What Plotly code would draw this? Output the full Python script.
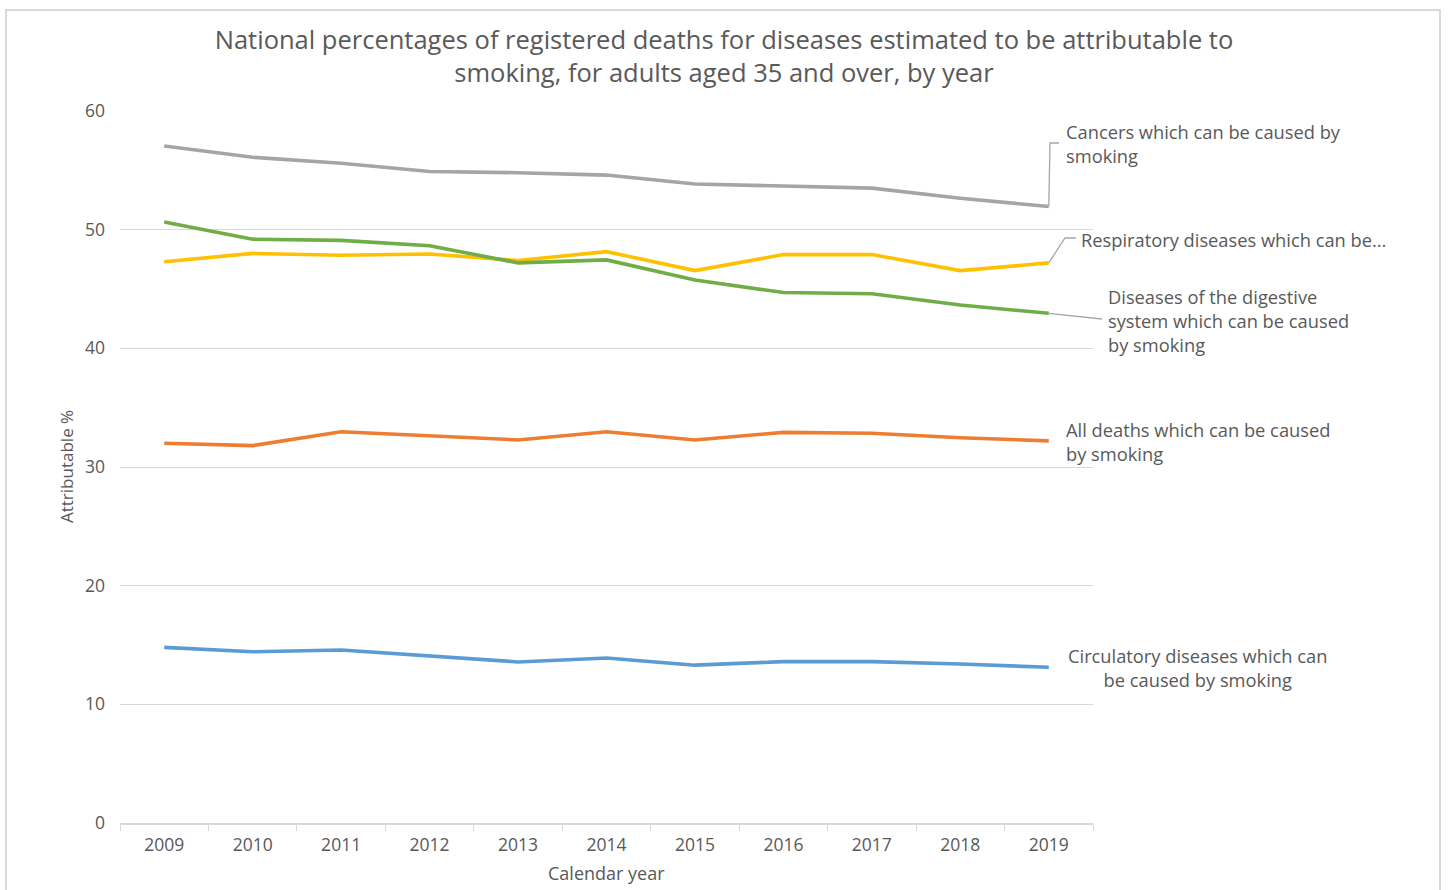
import plotly.graph_objects as go

years = ["2009", "2010", "2011", "2012", "2013", "2014", "2015", "2016", "2017", "2018", "2019"]
cancers = [57.05, 56.1, 55.6, 54.9, 54.8, 54.6, 53.85, 53.7, 53.5, 52.65, 51.95]
respiratory = [47.3, 48.0, 47.85, 47.95, 47.4, 48.15, 46.55, 47.9, 47.9, 46.55, 47.2]
digestive = [50.65, 49.2, 49.1, 48.65, 47.2, 47.45, 45.75, 44.7, 44.6, 43.65, 42.95]
all_deaths = [32.0, 31.8, 32.97, 32.6, 32.28, 32.97, 32.28, 32.92, 32.84, 32.47, 32.2]
circulatory = [14.8, 14.43, 14.58, 14.07, 13.57, 13.9, 13.3, 13.6, 13.6, 13.4, 13.12]

series_names = [
    "Cancers which can be caused by smoking",
    "Respiratory diseases which can be caused by smoking",
    "Diseases of the digestive system which can be caused by smoking",
    "All deaths which can be caused by smoking",
    "Circulatory diseases which can be caused by smoking",
]
series_values = [cancers, respiratory, digestive, all_deaths, circulatory]
colors = ["#a5a5a5", "#ffc000", "#70ad47", "#ed7d31", "#5b9bd5"]

W, H = 1448, 890
L, R, T, B = 120, 1093, 111, 823
YMAX = 60
FONT = "Open Sans"
TXT = "#595959"


def px(x):
    return (x - L) / (R - L)


def py(y):
    return (B - y) / (B - T)


def end_x():
    n = len(years)
    return (n - 1 + 0.5) / n


def val_y(v):
    return v / YMAX


fig = go.Figure()
for name, vals, col in zip(series_names, series_values, colors):
    fig.add_trace(go.Scatter(x=years, y=vals, name=name, mode="lines",
                             line=dict(color=col, width=3.6), showlegend=False,
                             hoverinfo="x+y+name"))

shapes = []
# chart border
shapes.append(dict(type="rect", xref="paper", yref="paper",
                   x0=px(6), x1=px(1440), y0=py(900), y1=py(10),
                   line=dict(color="#d9d9d9", width=2), fillcolor="rgba(0,0,0,0)", layer="below"))

lead = dict(color="#a6a6a6", width=1.3)
ex = end_x()
# cancers leader
shapes.append(dict(type="path", xref="paper", yref="paper",
                   path=f"M{ex},{val_y(cancers[-1])} L{px(1050)},{py(143)} L{px(1059)},{py(143)}",
                   line=lead))
# respiratory leader
shapes.append(dict(type="path", xref="paper", yref="paper",
                   path=f"M{ex},{val_y(respiratory[-1])} L{px(1065)},{py(238)} L{px(1076)},{py(238)}",
                   line=lead))
# digestive leader
shapes.append(dict(type="path", xref="paper", yref="paper",
                   path=f"M{ex},{val_y(digestive[-1])} L{px(1102)},{py(319)}",
                   line=lead))

annots = []
lab_font = dict(family=FONT, size=18.3, color=TXT)
annots.append(dict(text="Cancers which can be caused by<br>smoking", x=px(1064), y=py(143),
                   xanchor="left", yanchor="middle", align="left"))
annots.append(dict(text="Respiratory diseases which can be...", x=px(1079), y=py(239),
                   xanchor="left", yanchor="middle", align="left"))
annots.append(dict(text="Diseases of the digestive<br>system which can be caused<br>by smoking",
                   x=px(1106), y=py(320), xanchor="left", yanchor="middle", align="left"))
annots.append(dict(text="All deaths which can be caused<br>by smoking", x=px(1064), y=py(441),
                   xanchor="left", yanchor="middle", align="left"))
annots.append(dict(text="Circulatory diseases which can<br>be caused by smoking", x=px(1197), y=py(667),
                   xanchor="center", yanchor="middle", align="center"))
for a in annots:
    a.update(xref="paper", yref="paper", showarrow=False, font=lab_font)

# axis titles
annots.append(dict(text="Attributable %", x=px(66), y=py(467), xref="paper", yref="paper",
                   textangle=-90, showarrow=False, xanchor="center", yanchor="middle",
                   font=dict(family=FONT, size=17, color=TXT)))
annots.append(dict(text="Calendar year", x=px(606), y=py(873), xref="paper", yref="paper",
                   showarrow=False, xanchor="center", yanchor="middle",
                   font=dict(family=FONT, size=18, color=TXT)))

fig.update_layout(
    width=W, height=H,
    margin=dict(l=L, r=W - R, t=T, b=H - B),
    paper_bgcolor="white", plot_bgcolor="white",
    font=dict(family=FONT, color=TXT),
    title=dict(text="National percentages of registered deaths for diseases estimated to be attributable to<br>smoking, for adults aged 35 and over, by year",
               x=0.5, xref="container", xanchor="center",
               y=1 - 49 / H, yref="container", yanchor="middle",
               font=dict(family=FONT, size=25.5, color=TXT)),
    shapes=shapes,
    annotations=annots,
    xaxis=dict(type="category", tickson="boundaries", ticks="outside", ticklen=6,
               tickcolor="#d9d9d9", showline=True, linecolor="#d9d9d9", linewidth=1.5,
               showgrid=False, tickfont=dict(family=FONT, size=17.5, color=TXT),
               ticklabelstandoff=5,
               range=[-0.5, len(years) - 0.5]),
    yaxis=dict(range=[0, YMAX], dtick=10, showgrid=True, gridcolor="#d9d9d9", gridwidth=1.2,
               zeroline=False, showline=False, ticks="", ticklabelstandoff=14,
               tickfont=dict(family=FONT, size=17.5, color=TXT)),
)

fig.write_html("out.html")
